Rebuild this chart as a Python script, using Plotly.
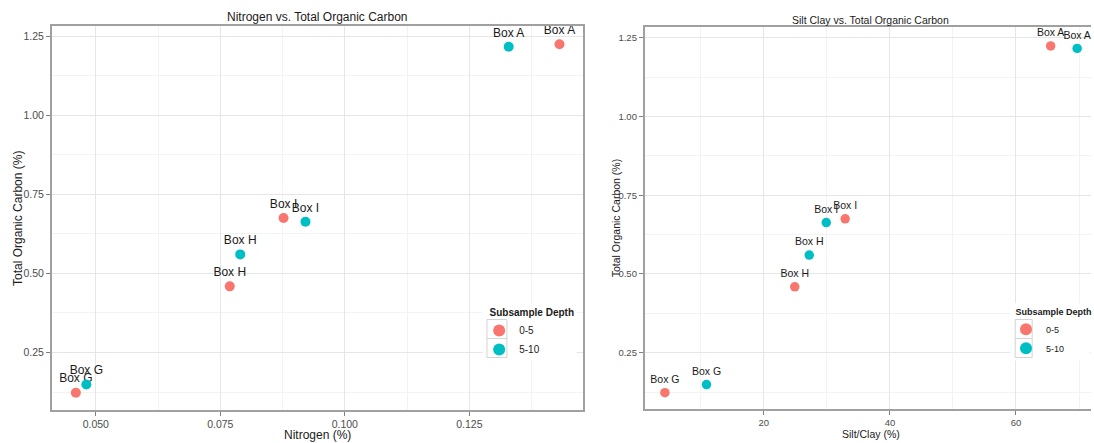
import plotly.graph_objects as go

# ---------------- data ----------------
boxes = ["Box A", "Box G", "Box H", "Box I"]
depths = ["0-5", "5-10"]
nitrogen_0_5 = [0.1431, 0.0460, 0.0769, 0.0877]
nitrogen_5_10 = [0.1329, 0.0481, 0.0790, 0.0921]
siltclay_0_5 = [65.5, 4.3, 24.9, 32.9]
siltclay_5_10 = [69.7, 10.9, 27.2, 29.9]
toc_0_5 = [1.224, 0.123, 0.459, 0.675]
toc_5_10 = [1.216, 0.149, 0.560, 0.663]

colors = {"0-5": "#F8766D", "5-10": "#00BFC4"}
FONT = "Liberation Sans, Arial, sans-serif"
W, H = 1094, 443

def px(x):
    return x / W

def py(y):
    return 1 - y / H

fig = go.Figure()

left = {"0-5": (nitrogen_0_5, toc_0_5), "5-10": (nitrogen_5_10, toc_5_10)}
right = {"0-5": (siltclay_0_5, toc_0_5), "5-10": (siltclay_5_10, toc_5_10)}

for d in depths:
    x, y = left[d]
    fig.add_trace(go.Scatter(
        x=x, y=y, text=boxes, mode="markers+text", name=d,
        textposition="top center",
        textfont=dict(family=FONT, size=12, color="#1a1a1a"),
        marker=dict(size=10, color=colors[d]),
        xaxis="x", yaxis="y", legend="legend", cliponaxis=False))
for d in depths:
    x, y = right[d]
    fig.add_trace(go.Scatter(
        x=x, y=y, text=boxes, mode="markers+text", name=d,
        textposition="top center",
        textfont=dict(family=FONT, size=10.5, color="#1a1a1a"),
        marker=dict(size=9.5, color=colors[d]),
        xaxis="x2", yaxis="y2", legend="legend2", cliponaxis=False))

grid = "#e6e6e6"
minor_grid = "#f3f3f3"
border = "#a0a0a0"
tickfont_l = dict(family=FONT, size=10.5, color="#4d4d4d")
tickfont_r = dict(family=FONT, size=9.5, color="#4d4d4d")

common = dict(showgrid=True, gridcolor=grid, gridwidth=1.2, zeroline=False,
              showline=True, linecolor=border, linewidth=1.8,
              ticks="outside", ticklen=4, tickcolor="#7f7f7f", tickwidth=1,
              automargin=False)

fig.update_layout(
    width=W, height=H,
    margin=dict(l=0, r=0, t=0, b=0),
    paper_bgcolor="white", plot_bgcolor="white",
    font=dict(family=FONT, color="#1a1a1a"),
    xaxis=dict(domain=[px(52), px(585)], range=[0.04118, 0.1479],
               tick0=0.05, dtick=0.025, tickformat=".3f", mirror=True,
               minor=dict(showgrid=True, gridcolor=minor_grid, gridwidth=1, dtick=0.0125, tick0=0.0375),
               tickfont=tickfont_l, anchor="y", **common),
    yaxis=dict(domain=[py(409.7), py(25.7)], range=[0.0693, 1.2826],
               tick0=0.25, dtick=0.25, tickformat=".2f", mirror=True,
               minor=dict(showgrid=True, gridcolor=minor_grid, gridwidth=1, dtick=0.125, tick0=0.125),
               tickfont=tickfont_l, anchor="x", **common),
    xaxis2=dict(domain=[px(646.5), 1.0], range=[1.1, 71.9],
                tick0=0, dtick=20, mirror=True,
                minor=dict(showgrid=True, gridcolor=minor_grid, gridwidth=1, dtick=10, tick0=0),
                tickfont=tickfont_r, anchor="y2", **common),
    yaxis2=dict(domain=[py(409), py(27.3)], range=[0.0713, 1.283],
                tick0=0.25, dtick=0.25, tickformat=".2f", mirror=False,
                minor=dict(showgrid=True, gridcolor=minor_grid, gridwidth=1, dtick=0.125, tick0=0.125),
                tickfont=tickfont_r, anchor="x2", **common),
    legend=dict(x=px(480.5), y=py(303), xanchor="left", yanchor="top",
                bgcolor="rgba(0,0,0,0)", itemsizing="constant",
                title=dict(text="&nbsp;&nbsp;&nbsp;<b>Subsample Depth</b>",
                           font=dict(family=FONT, size=10, color="#1a1a1a")),
                font=dict(family=FONT, size=10, color="#1a1a1a"), tracegroupgap=0),
    legend2=dict(x=px(1009), y=py(303), xanchor="left", yanchor="top",
                 bgcolor="rgba(0,0,0,0)", itemsizing="constant",
                 title=dict(text="&nbsp;&nbsp;&nbsp;<b>Subsample Depth</b>",
                            font=dict(family=FONT, size=9, color="#1a1a1a")),
                 font=dict(family=FONT, size=9, color="#1a1a1a"), tracegroupgap=0),
)

annotations = [
    dict(text="Nitrogen vs. Total Organic Carbon", x=px(318.5), y=py(17.5),
         font=dict(size=12)),
    dict(text="Silt Clay vs. Total Organic Carbon", x=px(873), y=py(19.5),
         font=dict(size=10.5)),
    dict(text="Nitrogen (%)", x=px(318.5), y=py(435), font=dict(size=12)),
    dict(text="Silt/Clay (%)", x=px(873), y=py(434), font=dict(size=10.5)),
    dict(text="Total Organic Carbon (%)", x=px(18), y=py(218), textangle=-90,
         font=dict(size=12)),
    dict(text="Total Organic Carbon (%)", x=px(618), y=py(218), textangle=-90,
         font=dict(size=10.5)),
]
for a in annotations:
    a.update(xref="paper", yref="paper", showarrow=False,
             xanchor="center", yanchor="middle")
    a["font"].update(family=FONT, color="#1a1a1a")
fig.update_layout(annotations=annotations)

shapes = []
# legend backgrounds and key boxes (centred on the legend symbols)
for (xc, half, y0, ymid, y1, bgx0, bgx1) in [(498.3, 10, 319.5, 338.5, 357.5, 484, 578),
                                              (1026.5, 8.5, 319.5, 338.5, 357.5, 1013, 1093)]:
    shapes.append(dict(type="rect", xref="paper", yref="paper",
                       x0=px(bgx0), x1=px(bgx1), y0=py(y1 + 3), y1=py(303),
                       fillcolor="white", line=dict(width=0), layer="above"))
    for (ya, yb) in [(y0, ymid), (ymid, y1)]:
        shapes.append(dict(type="rect", xref="paper", yref="paper",
                           x0=px(xc - half), x1=px(xc + half), y0=py(yb), y1=py(ya),
                           fillcolor="rgba(0,0,0,0)",
                           line=dict(color="#d4d4d4", width=1), layer="above"))
fig.update_layout(shapes=shapes)

fig.write_html("out.html")
